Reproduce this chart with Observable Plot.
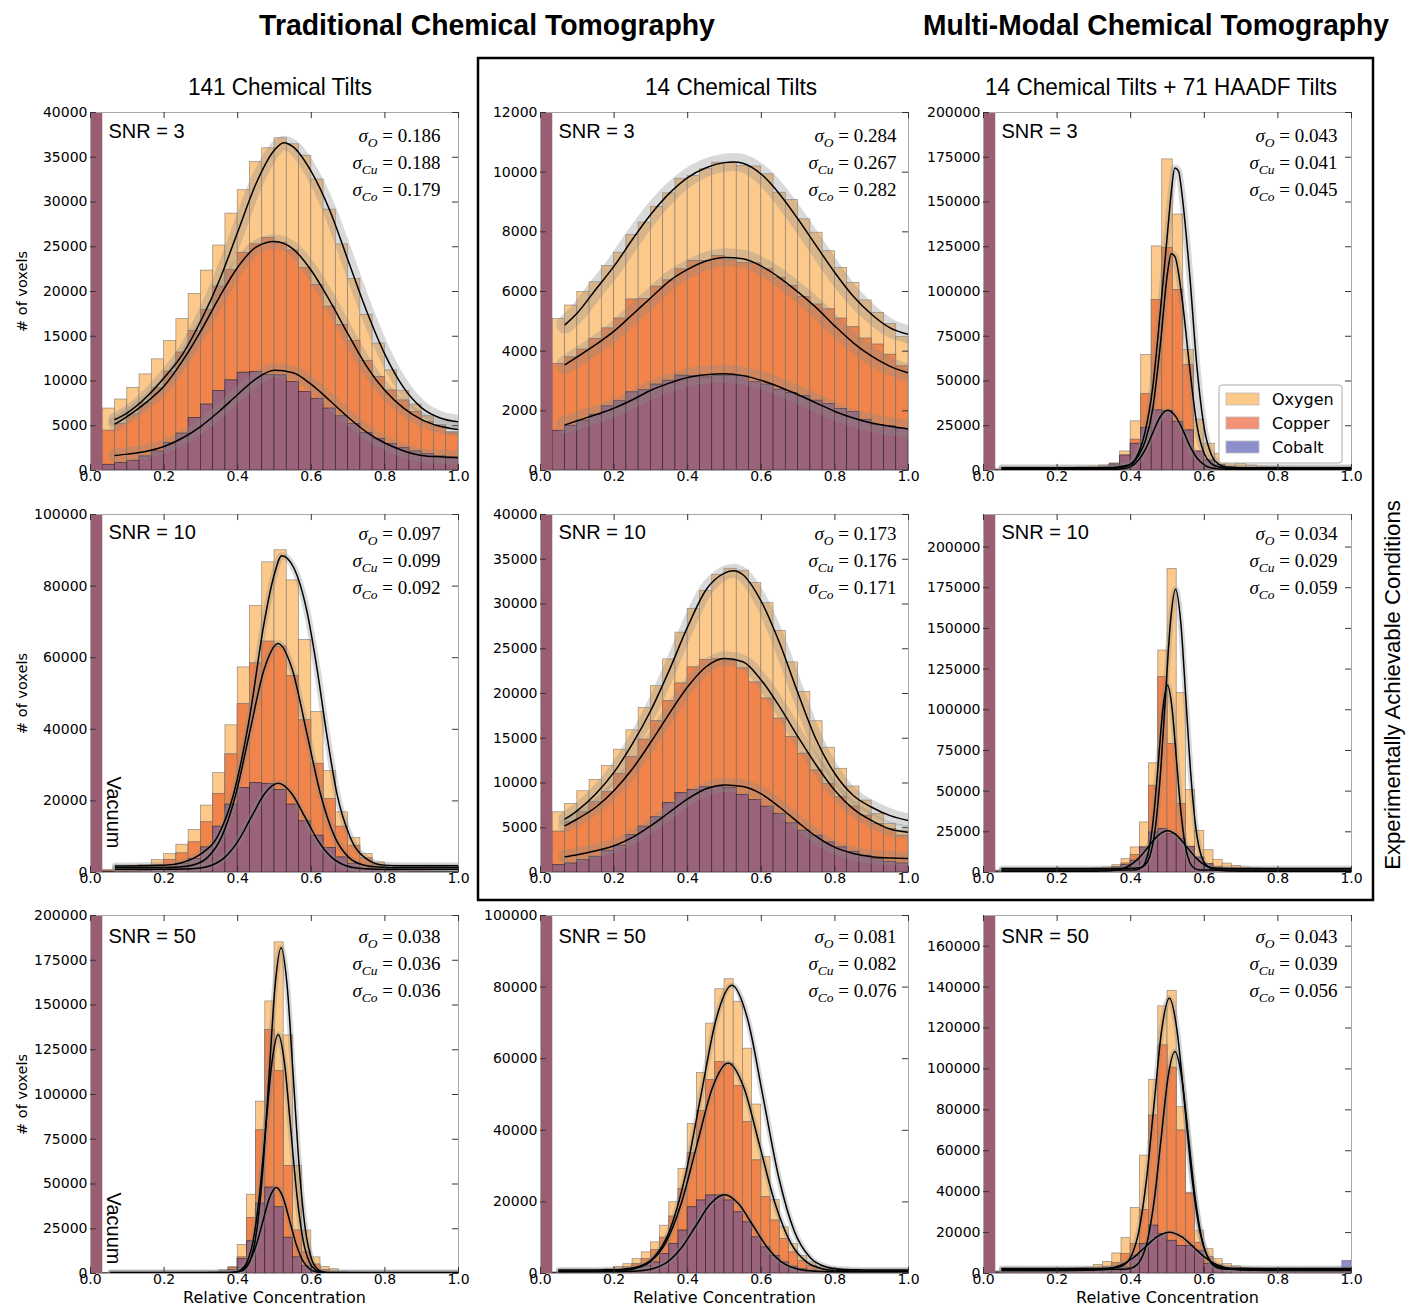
<!DOCTYPE html>
<html><head><meta charset="utf-8">
<script src="https://cdn.jsdelivr.net/npm/d3@7"></script>
<script src="https://cdn.jsdelivr.net/npm/@observablehq/plot@0.6"></script>
<style>
body{margin:0;background:#fff;}
#wrap{position:relative;width:1409px;height:1308px;overflow:hidden;background:#fff;}
</style></head><body><div id="wrap"></div>
<script>
// ---------------- DATA ----------------
const xTicks = [0, 0.2, 0.4, 0.6, 0.8, 1.0];
const yTicks40k = [0,5000,10000,15000,20000,25000,30000,35000,40000];
const yTicks12k = [0,2000,4000,6000,8000,10000,12000];
const yTicks200k = [0,25000,50000,75000,100000,125000,150000,175000,200000];
const yTicks100k = [0,20000,40000,60000,80000,100000];
const yTicks160k = [0,20000,40000,60000,80000,100000,120000,140000,160000];
const vacuumBin = [0, 1/30];
const legendLabels = ["Oxygen", "Copper", "Cobalt"];
const sigmaSubs = ["O", "Cu", "Co"];

// Row 1 – SNR = 3
const p11_O  = [6920,7930,9240,10740,12420,14480,16910,19720,22340,25140,28700,31320,34460,36000,37120,36450,35170,32520,29150,25260,21400,17400,14180,11190,8870,7370,6060,5100,4300];
const p11_Cu = [4450,5200,6250,7560,9170,11040,13170,15600,17920,20540,22410,24320,25260,25970,25410,24580,22600,20730,18300,16240,14480,12240,10440,8940,7820,6550,5430,4900,4150];
const p11_Co = [640,820,1090,1570,2130,3070,4120,5870,7370,8870,10070,10930,11000,10660,10630,9880,8760,8010,6920,6060,5200,4190,3520,2960,2510,2130,1830,1570,1310];
const p11_fitO  = [[0.067,5700],[0.1,6440],[0.15,8120],[0.2,10360],[0.25,12980],[0.3,16730],[0.35,21220],[0.4,26640],[0.45,32070],[0.5,35810],[0.525,36630],[0.55,36180],[0.6,33380],[0.65,29070],[0.7,23460],[0.75,17850],[0.8,12980],[0.85,9320],[0.9,7000],[0.95,5870],[1.0,5430]];
const p11_fitCu = [[0.067,5200],[0.1,6060],[0.15,7560],[0.2,9430],[0.25,12240],[0.3,15600],[0.35,19350],[0.4,22710],[0.45,24960],[0.5,25590],[0.55,24770],[0.6,22340],[0.65,18970],[0.7,15230],[0.75,11670],[0.8,8940],[0.85,7000],[0.9,5690],[0.95,4940],[1.0,4570]];
const p11_fitCo = [[0.067,1680],[0.1,1830],[0.15,2130],[0.2,2690],[0.25,3630],[0.3,4940],[0.35,6620],[0.4,8490],[0.45,10250],[0.5,11190],[0.55,10930],[0.6,9620],[0.65,7820],[0.7,5950],[0.75,4300],[0.8,3070],[0.85,2210],[0.9,1680],[0.95,1530],[1.0,1460]];
const p11_sig = ["0.186","0.188","0.179"];

const p12_O  = [5080,5530,5980,6310,6850,7300,7890,8310,8840,9290,9780,9870,10100,10320,10320,10210,10190,9930,9310,9070,8420,7970,7350,6790,6290,5700,5280,4910,4470];
const p12_Cu = [3570,3790,4050,4410,4760,5090,5730,5750,6160,6370,6740,7020,7020,7190,7040,6960,6940,6740,6460,6180,5820,5560,5400,5090,4800,4420,4220,3880,3490];
const p12_Co = [1330,1500,1670,1870,2150,2320,2620,2690,2880,3010,3180,3160,3120,3180,3180,3160,2960,2880,2710,2600,2490,2340,2230,2060,1960,1700,1530,1480,1400];
const p12_fitO  = [[0.067,4890],[0.1,5280],[0.15,6070],[0.2,6850],[0.25,7750],[0.3,8590],[0.35,9290],[0.4,9820],[0.45,10150],[0.5,10320],[0.525,10340],[0.55,10300],[0.6,9930],[0.65,9260],[0.7,8420],[0.75,7520],[0.8,6630],[0.85,5840],[0.9,5230],[0.95,4780],[1.0,4560]];
const p12_fitCu = [[0.067,3550],[0.1,3810],[0.15,4220],[0.2,4670],[0.25,5230],[0.3,5790],[0.35,6350],[0.4,6740],[0.45,7020],[0.5,7140],[0.55,7100],[0.6,6850],[0.65,6460],[0.7,5980],[0.75,5450],[0.8,4840],[0.85,4280],[0.9,3830],[0.95,3490],[1.0,3270]];
const p12_fitCo = [[0.067,1530],[0.1,1670],[0.15,1870],[0.2,2090],[0.25,2370],[0.3,2690],[0.35,2930],[0.4,3120],[0.45,3210],[0.5,3240],[0.55,3180],[0.6,3020],[0.65,2800],[0.7,2540],[0.75,2260],[0.8,1980],[0.85,1760],[0.9,1590],[0.95,1480],[1.0,1390]];
const p12_sig = ["0.284","0.267","0.282"];

const p13_O  = [600,700,800,900,1000,1100,1300,1500,1800,2200,2800,4000,10650,27470,64480,125200,173800,143000,67300,28400,14950,9340,5980,3740,2800,2200,1800,1500,1300,1100,1000,900,800,700];
const p13_Cu = [400,450,500,600,700,800,900,1000,1200,1500,2000,2800,5600,17200,42600,95300,124300,100900,58900,10300,5600,3000,2000,1500,1200,1000,900,800,700,600,500,500,400,400];
const p13_Co = [300,350,400,450,500,600,700,800,1000,1300,2000,3400,8400,14950,23700,33600,33300,27100,22400,10650,5600,2800,1800,1200,900,700,600,500,400,400,300,300,300,300];
const p13_fitO  = [[0.05,1500],[0.3,1500],[0.35,1700],[0.38,2500],[0.4,3700],[0.42,9300],[0.44,22400],[0.46,46700],[0.48,87800],[0.5,132700],[0.51,155000],[0.52,169000],[0.53,167300],[0.54,153300],[0.56,110300],[0.58,57900],[0.6,23400],[0.62,8400],[0.64,3400],[0.66,1900],[0.7,1500],[1.0,1500]];
const p13_fitCu = [[0.05,1000],[0.3,1000],[0.36,1300],[0.4,3000],[0.42,8000],[0.44,16800],[0.46,34600],[0.48,69200],[0.5,110300],[0.51,121100],[0.52,119600],[0.54,95300],[0.56,57900],[0.58,25200],[0.6,9300],[0.62,3700],[0.64,1900],[0.68,1000],[1.0,1000]];
const p13_fitCo = [[0.05,600],[0.3,600],[0.36,680],[0.38,970],[0.4,2000],[0.42,5600],[0.44,11800],[0.46,21000],[0.48,29900],[0.5,33600],[0.52,30800],[0.54,23400],[0.56,14000],[0.58,7000],[0.6,3200],[0.62,1400],[0.66,700],[1.0,600]];
const p13_sig = ["0.043","0.041","0.045"];

// Row 2 – SNR = 10
const p21_O  = [750,930,1400,2060,3460,5140,7760,11870,18690,27760,41120,57290,74490,86640,90000,81590,64950,44860,28320,16820,9630,5140,2800,1400,930,650,470,350,300];
const p21_Cu = [470,650,930,1400,2060,3460,5330,8410,14020,21960,32990,47010,58410,64490,63080,54860,42520,30370,20560,12800,7480,3930,2060,1120,650,400,300,250,200];
const p21_Co = [200,250,300,450,650,1200,2340,3740,7010,12800,18970,23640,24950,24770,23080,18970,14300,10280,6820,4210,2340,1120,650,400,300,200,150,100,100];
const p21_fitO  = [[0.068,1800],[0.2,2000],[0.25,2800],[0.299,5140],[0.344,9820],[0.389,22000],[0.434,44400],[0.47,68700],[0.498,82700],[0.52,88500],[0.552,85200],[0.588,73000],[0.615,57300],[0.642,38600],[0.67,21800],[0.706,9800],[0.751,3740],[0.796,2060],[0.85,1900],[1.0,1870]];
const p21_fitCu = [[0.068,1400],[0.2,1400],[0.2405,1540],[0.279,2095],[0.3175,4150],[0.356,9870],[0.3945,21730],[0.433,39370],[0.4715,56640],[0.51,64000],[0.5485,56640],[0.587,39370],[0.6255,21730],[0.664,9870],[0.7025,4150],[0.741,2095],[0.7795,1540],[0.85,1400],[1.0,1400]];
const p21_fitCo = [[0.068,900],[0.2,900],[0.2545,953],[0.291,1166],[0.3275,1950],[0.364,4150],[0.4005,8690],[0.437,15460],[0.4735,22080],[0.51,24900],[0.5465,22080],[0.583,15460],[0.6195,8690],[0.656,4150],[0.6925,1950],[0.729,1166],[0.7655,953],[0.85,900],[1.0,900]];
const p21_sig = ["0.097","0.099","0.092"];

const p22_O  = [6730,7660,9080,10350,11890,13720,15890,18390,20820,23810,26800,29460,31470,33230,33940,33720,32330,30090,26990,23470,20190,16900,13940,11590,9610,8040,6540,5420,4670];
const p22_Cu = [4560,5610,6730,7850,8970,11030,12900,14840,16900,19140,21120,22910,23740,23850,23660,22800,21230,19440,17190,15140,13270,11400,9910,8410,7360,6350,5420,4860,4110];
const p22_Co = [820,1010,1380,1760,2430,2990,4190,5120,6170,7780,8860,9230,9530,9530,9460,8670,8110,7360,6540,5490,4670,4110,3360,2800,2320,1870,1500,1200,1010];
const p22_fitO  = [[0.067,5980],[0.1,6920],[0.15,8780],[0.2,11210],[0.25,14390],[0.3,18130],[0.35,22610],[0.4,27470],[0.45,31590],[0.5,33450],[0.525,33720],[0.55,33270],[0.6,30280],[0.65,25610],[0.7,20000],[0.75,14770],[0.8,11030],[0.85,8600],[0.9,7290],[0.95,6350],[1.0,5790]];
const p22_fitCu = [[0.067,5230],[0.1,5980],[0.15,7290],[0.2,9160],[0.25,11590],[0.3,14580],[0.35,17760],[0.4,20750],[0.45,22990],[0.5,23920],[0.55,23550],[0.6,21490],[0.65,18500],[0.7,15140],[0.75,11960],[0.8,9160],[0.85,7100],[0.9,5790],[0.95,4860],[1.0,4490]];
const p22_fitCo = [[0.067,1760],[0.1,1980],[0.15,2430],[0.2,2990],[0.25,3920],[0.3,5230],[0.35,6730],[0.4,8220],[0.45,9350],[0.5,9790],[0.55,9610],[0.6,8780],[0.65,7290],[0.7,5610],[0.75,4000],[0.8,2800],[0.85,2130],[0.9,1760],[0.95,1610],[1.0,1570]];
const p22_sig = ["0.173","0.176","0.171"];

const p23_O  = [1200,1300,1400,1500,1600,1700,1800,1900,2000,2100,2300,2600,3100,4500,8200,15400,30800,67100,136400,186600,110300,50700,25600,13700,7800,5500,4100,3100,2600,2300,2100,2000,1900,1800,1700,1600,1500,1400,1300];
const p23_Cu = [800,850,900,950,1000,1050,1100,1150,1200,1300,1400,1600,2000,3000,5500,10700,14000,53300,120000,79000,42000,15400,6200,3100,2000,1600,1400,1200,1100,1000,950,900,850,800,800,750,700,700,650];
const p23_Co = [500,550,600,650,700,750,800,850,900,1000,1200,1500,2200,3100,4500,7200,15400,24600,26700,23600,20500,15800,9200,5100,3100,2000,1500,1200,1000,900,850,800,750,700,650,600,600,550,500];
const p23_fitO  = [[0.05,2500],[0.35,2500],[0.41,2600],[0.424,2877],[0.438,4400],[0.452,10030],[0.466,25700],[0.48,58190],[0.494,106500],[0.508,153850],[0.522,174000],[0.536,153850],[0.55,106500],[0.564,58190],[0.578,25700],[0.592,10030],[0.606,4400],[0.62,2877],[0.634,2600],[0.7,2500],[1.0,2500]];
const p23_fitCu = [[0.05,1500],[0.35,1500],[0.404,1560],[0.416,1750],[0.428,2760],[0.44,6480],[0.452,16860],[0.464,38350],[0.476,70340],[0.488,101660],[0.5,115000],[0.512,101660],[0.524,70340],[0.536,38350],[0.548,16860],[0.56,6480],[0.572,2760],[0.584,1750],[0.596,1560],[0.65,1500],[1.0,1500]];
const p23_fitCo = [[0.05,800],[0.25,800],[0.292,810],[0.318,855],[0.344,1075],[0.37,1890],[0.396,4160],[0.422,8850],[0.448,15840],[0.474,22690],[0.5,25600],[0.526,22690],[0.552,15840],[0.578,8850],[0.604,4160],[0.63,1890],[0.656,1075],[0.682,855],[0.708,810],[0.8,800],[1.0,800]];
const p23_sig = ["0.034","0.029","0.059"];

// Row 3 – SNR = 50
const p31_O  = [200,200,200,200,250,250,300,300,350,400,450,500,900,1800,3700,16000,44000,96000,152000,185000,133000,60000,24000,9000,3700,2400,800,500,400,300,300,250,250,200,200,200,200,200,200];
const p31_Cu = [150,150,150,150,200,200,200,250,250,300,300,300,600,1200,3000,9000,31000,80000,136000,113000,60000,24000,12000,5000,2000,800,300,250,200,200,200,150,150,150,150,150,150,150,150];
const p31_Co = [100,100,100,100,100,100,100,100,100,100,100,100,400,800,2000,8000,18000,39000,48000,37000,20000,9000,4000,1500,600,300,100,100,100,100,100,100,100,100,100,100,100,100,100];
const p31_fitO  = [[0.055,500],[0.35,500],[0.387,560],[0.4032,900],[0.4196,2510],[0.436,8470],[0.4524,25060],[0.4688,59430],[0.4852,110580],[0.5016,160670],[0.518,182000],[0.5344,160670],[0.5508,110580],[0.5672,59430],[0.5836,25060],[0.6,8470],[0.6164,2510],[0.6328,900],[0.649,560],[0.7,500],[1.0,500]];
const p31_fitCu = [[0.055,400],[0.35,400],[0.374,450],[0.391,690],[0.408,1880],[0.425,6240],[0.442,18410],[0.459,43620],[0.476,81130],[0.493,117860],[0.51,133500],[0.527,117860],[0.544,81130],[0.561,43620],[0.578,18410],[0.595,6240],[0.612,1880],[0.629,690],[0.646,450],[0.7,400],[1.0,400]];
const p31_fitCo = [[0.055,300],[0.33,300],[0.3772,405],[0.3955,830],[0.4137,2390],[0.432,6750],[0.4502,15790],[0.4685,29230],[0.4867,42400],[0.505,48000],[0.5233,42400],[0.5415,29230],[0.5598,15790],[0.578,6750],[0.5963,2390],[0.6145,830],[0.6328,405],[0.68,300],[1.0,300]];
const p31_sig = ["0.038","0.036","0.036"];

const p32_O  = [300,300,400,500,600,800,1200,1870,2600,4000,5900,8700,13350,19900,29200,41800,56000,69800,79400,82200,75900,62800,47200,32500,20500,12900,8200,4900,3100,1900,1200,900,700,600,500,400,400,300,300];
const p32_Cu = [200,200,300,300,400,500,700,1000,1700,2600,4000,6500,10000,15900,23600,33600,45400,54000,59100,58600,52300,42300,31600,21300,14800,9600,5900,3500,2100,1200,800,600,500,400,300,300,200,200,200];
const p32_Co = [100,100,150,200,250,300,400,600,900,1500,2100,3100,5400,8200,12000,18500,20400,21800,21800,20400,17100,14300,10100,7300,4900,3100,1900,1200,800,500,400,300,200,200,150,100,100,100,100];
const p32_fitO  = [[0.05,1000],[0.15,1000],[0.18,1030],[0.2225,1175],[0.265,1882],[0.3075,4490],[0.35,11760],[0.3925,26810],[0.435,49220],[0.4775,71160],[0.52,80500],[0.5625,71160],[0.605,49220],[0.6475,26810],[0.69,11760],[0.7325,4490],[0.775,1882],[0.8175,1175],[0.86,1030],[0.9,1000],[1.0,1000]];
const p32_fitCu = [[0.05,700],[0.15,700],[0.17,730],[0.2125,828],[0.255,1345],[0.2975,3250],[0.34,8560],[0.3825,19570],[0.425,35940],[0.4675,51970],[0.51,58800],[0.5525,51970],[0.595,35940],[0.6375,19570],[0.68,8560],[0.7225,3250],[0.765,1345],[0.8075,828],[0.85,730],[0.9,700],[1.0,700]];
const p32_fitCo = [[0.05,500],[0.19,500],[0.2322,547],[0.2705,739],[0.3087,1444],[0.347,3410],[0.3852,7480],[0.4235,13540],[0.4617,19470],[0.5,22000],[0.5383,19470],[0.5765,13540],[0.6148,7480],[0.653,3410],[0.6913,1444],[0.7295,739],[0.7678,547],[0.81,500],[1.0,500]];
const p32_sig = ["0.081","0.082","0.076"];

const p33_O  = [1000,1100,1200,1300,1400,1500,1700,1900,2200,2600,2900,4200,5700,9800,17300,32000,57600,94700,130600,138200,81300,38900,20900,11900,7000,4600,3500,2800,2500,2300,2200,2100,2000,1900,1800,1700,1600,1500,1400];
const p33_Cu = [600,650,700,750,800,900,1000,1100,1200,1300,1500,2000,3000,5000,9500,14400,31000,77200,111500,100600,69900,39500,15000,8000,4000,2500,1800,1500,1300,1200,1100,1000,1000,900,900,800,800,800,800];
const p33_Co = [500,550,600,650,700,750,800,850,900,1000,1100,1300,1600,2000,2900,8700,14400,23400,19300,16000,13500,13500,11100,4600,3000,2200,1800,1500,1300,1200,1100,1100,1000,1000,1000,1000,1000,1000,6200];
const p33_fitO  = [[0.05,2500],[0.3,2500],[0.3386,2560],[0.3594,2790],[0.3802,3970],[0.401,8300],[0.4218,20360],[0.4426,45360],[0.4634,82560],[0.4842,118990],[0.505,134500],[0.5258,118990],[0.5466,82560],[0.5674,45360],[0.5882,20360],[0.609,8300],[0.6298,3970],[0.6506,2790],[0.6714,2560],[0.72,2500],[1.0,2500]];
const p33_fitCu = [[0.05,2000],[0.33,2000],[0.372,2030],[0.3905,2234],[0.409,3180],[0.4275,6680],[0.446,16410],[0.4645,36580],[0.483,66590],[0.5015,95990],[0.52,108500],[0.5385,95990],[0.557,66590],[0.5755,36580],[0.594,16410],[0.6125,6680],[0.631,3180],[0.6495,2234],[0.668,2030],[0.72,2000],[1.0,2000]];
const p33_fitCo = [[0.05,1500],[0.22,1500],[0.274,1541],[0.307,1708],[0.34,2321],[0.373,4030],[0.406,7570],[0.439,12840],[0.472,18000],[0.505,20200],[0.538,18000],[0.571,12840],[0.604,7570],[0.637,4030],[0.67,2321],[0.703,1708],[0.736,1541],[0.8,1500],[1.0,1500]];
const p33_sig = ["0.043","0.039","0.056"];

const snrLabels = ["SNR = 3", "SNR = 10", "SNR = 50"];
const colTitles = ["141 Chemical Tilts", "14 Chemical Tilts", "14 Chemical Tilts + 71 HAADF Tilts"];
const groupTitles = ["Traditional Chemical Tomography", "Multi-Modal Chemical Tomography"];

// ---------------- LAYOUT / STYLE ----------------
const C = {O:"#fdc98a", CuOnly:"#f39276", Cu:"#f0844a", CoOnly:"#8c8fcc", Co:"#9a6379", vac:"#9a5e72"};
const colLeft = [90, 540, 983], rowTop = [112, 514, 915];
const PW = 368, PH = 358, ML = 90, MR = 20, MT = 10, MB = 40;
const snrDy = [19, 18, 21], sigDy = [23, 19, 21], sigDx = [-18, -12, -14];

const panels = [
  {r:0,c:0,n:30,ymax:40000, yt:yTicks40k, O:p11_O,Cu:p11_Cu,Co:p11_Co,fits:[p11_fitO,p11_fitCu,p11_fitCo],sig:p11_sig,band:14},
  {r:0,c:1,n:30,ymax:12000, yt:yTicks12k, O:p12_O,Cu:p12_Cu,Co:p12_Co,fits:[p12_fitO,p12_fitCu,p12_fitCo],sig:p12_sig,band:18},
  {r:0,c:2,n:35,ymax:200000,yt:yTicks200k,O:p13_O,Cu:p13_Cu,Co:p13_Co,fits:[p13_fitO,p13_fitCu,p13_fitCo],sig:p13_sig,band:7},
  {r:1,c:0,n:30,ymax:100000,yt:yTicks100k,O:p21_O,Cu:p21_Cu,Co:p21_Co,fits:[p21_fitO,p21_fitCu,p21_fitCo],sig:p21_sig,band:7},
  {r:1,c:1,n:30,ymax:40000, yt:yTicks40k, O:p22_O,Cu:p22_Cu,Co:p22_Co,fits:[p22_fitO,p22_fitCu,p22_fitCo],sig:p22_sig,band:14},
  {r:1,c:2,n:40,ymax:220000,yt:yTicks200k,O:p23_O,Cu:p23_Cu,Co:p23_Co,fits:[p23_fitO,p23_fitCu,p23_fitCo],sig:p23_sig,band:6},
  {r:2,c:0,n:40,ymax:200000,yt:yTicks200k,O:p31_O,Cu:p31_Cu,Co:p31_Co,fits:[p31_fitO,p31_fitCu,p31_fitCo],sig:p31_sig,band:6},
  {r:2,c:1,n:40,ymax:100000,yt:yTicks100k,O:p32_O,Cu:p32_Cu,Co:p32_Co,fits:[p32_fitO,p32_fitCu,p32_fitCo],sig:p32_sig,band:6},
  {r:2,c:2,n:40,ymax:175000,yt:yTicks160k,O:p33_O,Cu:p33_Cu,Co:p33_Co,fits:[p33_fitO,p33_fitCu,p33_fitCo],sig:p33_sig,band:6}
];

const wrap = document.getElementById("wrap");

function sigmaize(svg) {
  d3.select(svg).selectAll("text").each(function() {
    const t = this.textContent || "";
    const m = t.match(/^σ(\S+) = (.+)$/);
    if (!m) return;
    const s = d3.select(this);
    s.selectAll("*").remove();
    s.text(null);
    s.append("tspan").attr("font-style", "italic").text("σ");
    s.append("tspan").attr("font-style", "italic").attr("font-size", "13.5px").attr("dy", "5").text(m[1]);
    s.append("tspan").attr("dy", "-5").text(" = " + m[2]);
  });
}

for (const p of panels) {
  const n = p.n, ym = p.ymax;
  const bins = p.O.map((o, i) => ({x1: (i + 1) / n, x2: (i + 2) / n, O: o, Cu: p.Cu[i], Co: p.Co[i]}));
  const tx = 0.016, ty = ym * 0.017;
  const barStroke = {stroke: "#6e6e6e", strokeWidth: 0.7, strokeOpacity: 0.75};
  const marks = [
    Plot.rect(bins, {x1: "x1", x2: "x2", y1: 0, y2: "O", fill: C.O, ...barStroke}),
    Plot.rect(bins, {x1: "x1", x2: "x2", y1: 0, y2: "Cu", fill: C.CuOnly, ...barStroke}),
    Plot.rect(bins, {x1: "x1", x2: "x2", y1: 0, y2: d => Math.min(d.O, d.Cu), fill: C.Cu, ...barStroke}),
    Plot.rect(bins, {x1: "x1", x2: "x2", y1: 0, y2: "Co", fill: C.CoOnly, ...barStroke}),
    Plot.rect(bins, {x1: "x1", x2: "x2", y1: 0, y2: d => Math.min(d.Co, Math.max(d.O, d.Cu)), fill: C.Co, stroke: "#2a1f24", strokeWidth: 0.7, strokeOpacity: 0.8}),
    Plot.rect([vacuumBin], {x1: d => d[0], x2: d => d[1], y1: 0, y2: ym, fill: C.vac}),
    ...p.fits.map(f => Plot.line(f, {x: d => d[0], y: d => d[1], curve: "monotone-x", stroke: "#8a8a8a", strokeOpacity: 0.32, strokeWidth: p.band, clip: true})),
    ...p.fits.map(f => Plot.line(f, {x: d => d[0], y: d => d[1], curve: "monotone-x", stroke: "#000", strokeWidth: 1.5, clip: true})),
    Plot.frame({stroke: "#a8a8a8"}),
    Plot.ruleY(p.yt, {y: d => d, x1: 0, x2: tx, stroke: "#333"}),
    Plot.ruleY(p.yt, {y: d => d, x1: 1 - tx, x2: 1, stroke: "#333"}),
    Plot.ruleX(xTicks, {x: d => d, y1: ym - ty, y2: ym, stroke: "#333"}),
    Plot.ruleX(xTicks, {x: d => d, y1: 0, y2: ty, stroke: "#333"}),
    Plot.axisX({ticks: xTicks, tickFormat: ".1f", tickSize: 0, tickPadding: 1, label: null}),
    Plot.axisY({ticks: p.yt, tickFormat: "d", tickSize: 0, tickPadding: 3, label: null}),
    Plot.text([snrLabels[p.r]], {frameAnchor: "top-left", dx: 18, dy: snrDy[p.r], text: d => d, textAnchor: "start", lineAnchor: "middle", fontSize: 20, fontFamily: "Liberation Sans, Arial, sans-serif"}),
    ...p.sig.map((s, j) => Plot.text([`σ${sigmaSubs[j]} = ${s}`], {frameAnchor: "top-right", dx: sigDx[p.c], dy: sigDy[p.r] + 27 * j, text: d => d, textAnchor: "end", lineAnchor: "middle", fontSize: 19, fontFamily: "Liberation Serif, Times New Roman, serif"}))
  ];
  if (p.c === 0) {
    marks.push(Plot.text(["# of voxels"], {frameAnchor: "left", dx: -68, rotate: -90, text: d => d, textAnchor: "middle", lineAnchor: "middle", fontSize: 14.5}));
    if (p.r > 0) marks.push(Plot.text(["Vacuum"], {frameAnchor: "bottom-left", dx: 23, dy: p.r === 1 ? -60 : -45, rotate: 90, text: d => d, textAnchor: "middle", lineAnchor: "middle", fontSize: 20, fontFamily: "Liberation Sans, Arial, sans-serif"}));
  }
  if (p.r === 2) {
    marks.push(Plot.text(["Relative Concentration"], {frameAnchor: "bottom", dy: 24, text: d => d, lineAnchor: "middle", fontSize: 16}));
  }
  const svg = Plot.plot({
    width: ML + PW + MR, height: MT + PH + MB,
    marginLeft: ML, marginRight: MR, marginTop: MT, marginBottom: MB,
    x: {domain: [0, 1]},
    y: {domain: [0, ym]},
    style: {background: "transparent", overflow: "visible", fontSize: "14px", fontFamily: "DejaVu Sans, sans-serif", color: "#000"},
    marks
  });
  svg.style.position = "absolute";
  svg.style.left = (colLeft[p.c] - ML) + "px";
  svg.style.top = (rowTop[p.r] - MT) + "px";
  svg.style.background = "transparent";
  svg.style.maxWidth = "none";
  sigmaize(svg);
  wrap.appendChild(svg);
}

// ---------------- OVERLAY: titles, box, legend ----------------
const ov = d3.select(wrap).append("svg")
  .attr("width", 1409).attr("height", 1308)
  .style("position", "absolute").style("left", "0px").style("top", "0px").style("pointer-events", "none");

// text squeezed horizontally to a target width (condensed look), measured at runtime
function fitted(cx, cy, str, target, attrs, rot) {
  const t = ov.append("text").attr("x", 0).attr("y", 0).attr("text-anchor", "middle").text(str);
  for (const k in attrs) t.attr(k, attrs[k]);
  const w = t.node().getComputedTextLength() || target;
  const s = target / w;
  t.attr("transform", `translate(${cx},${cy})${rot ? ` rotate(${rot})` : ""} scale(${s},1)`);
  return t;
}

const narrow = "Liberation Sans Narrow, Liberation Sans, Arial, sans-serif";
fitted(487, 35, groupTitles[0], 456, {"font-family": narrow, "font-weight": "bold", "font-size": 29});
fitted(1156, 35, groupTitles[1], 466, {"font-family": narrow, "font-weight": "bold", "font-size": 29});

const colCenters = [280, 731, 1161], colLens = [184, 172, 352];
colTitles.forEach((t, i) => fitted(colCenters[i], 95, t, colLens[i], {"font-family": narrow, "font-size": 24}));

ov.append("rect").attr("x", 478).attr("y", 58).attr("width", 895).attr("height", 842)
  .attr("fill", "none").attr("stroke", "#000").attr("stroke-width", 2.5);

fitted(1400, 685, "Experimentally Achievable Conditions", 370, {"font-family": "Liberation Sans, Arial, sans-serif", "font-size": 22}, -90);

// legend in top-right panel
const lg = ov.append("g");
lg.append("rect").attr("x", 1219).attr("y", 385).attr("width", 123).attr("height", 78).attr("rx", 3)
  .attr("fill", "#fff").attr("stroke", "#aaa").attr("stroke-width", 1);
const legCols = [C.O, C.CuOnly, C.CoOnly];
legendLabels.forEach((l, i) => {
  const cy = 399 + 24 * i;
  lg.append("rect").attr("x", 1226).attr("y", cy - 6).attr("width", 33).attr("height", 12)
    .attr("fill", legCols[i]).attr("stroke", "#bbb").attr("stroke-width", 0.8);
  lg.append("text").attr("x", 1272).attr("y", cy + 6).attr("font-family", "DejaVu Sans, sans-serif")
    .attr("font-size", 16).text(l);
});
</script></body></html>
